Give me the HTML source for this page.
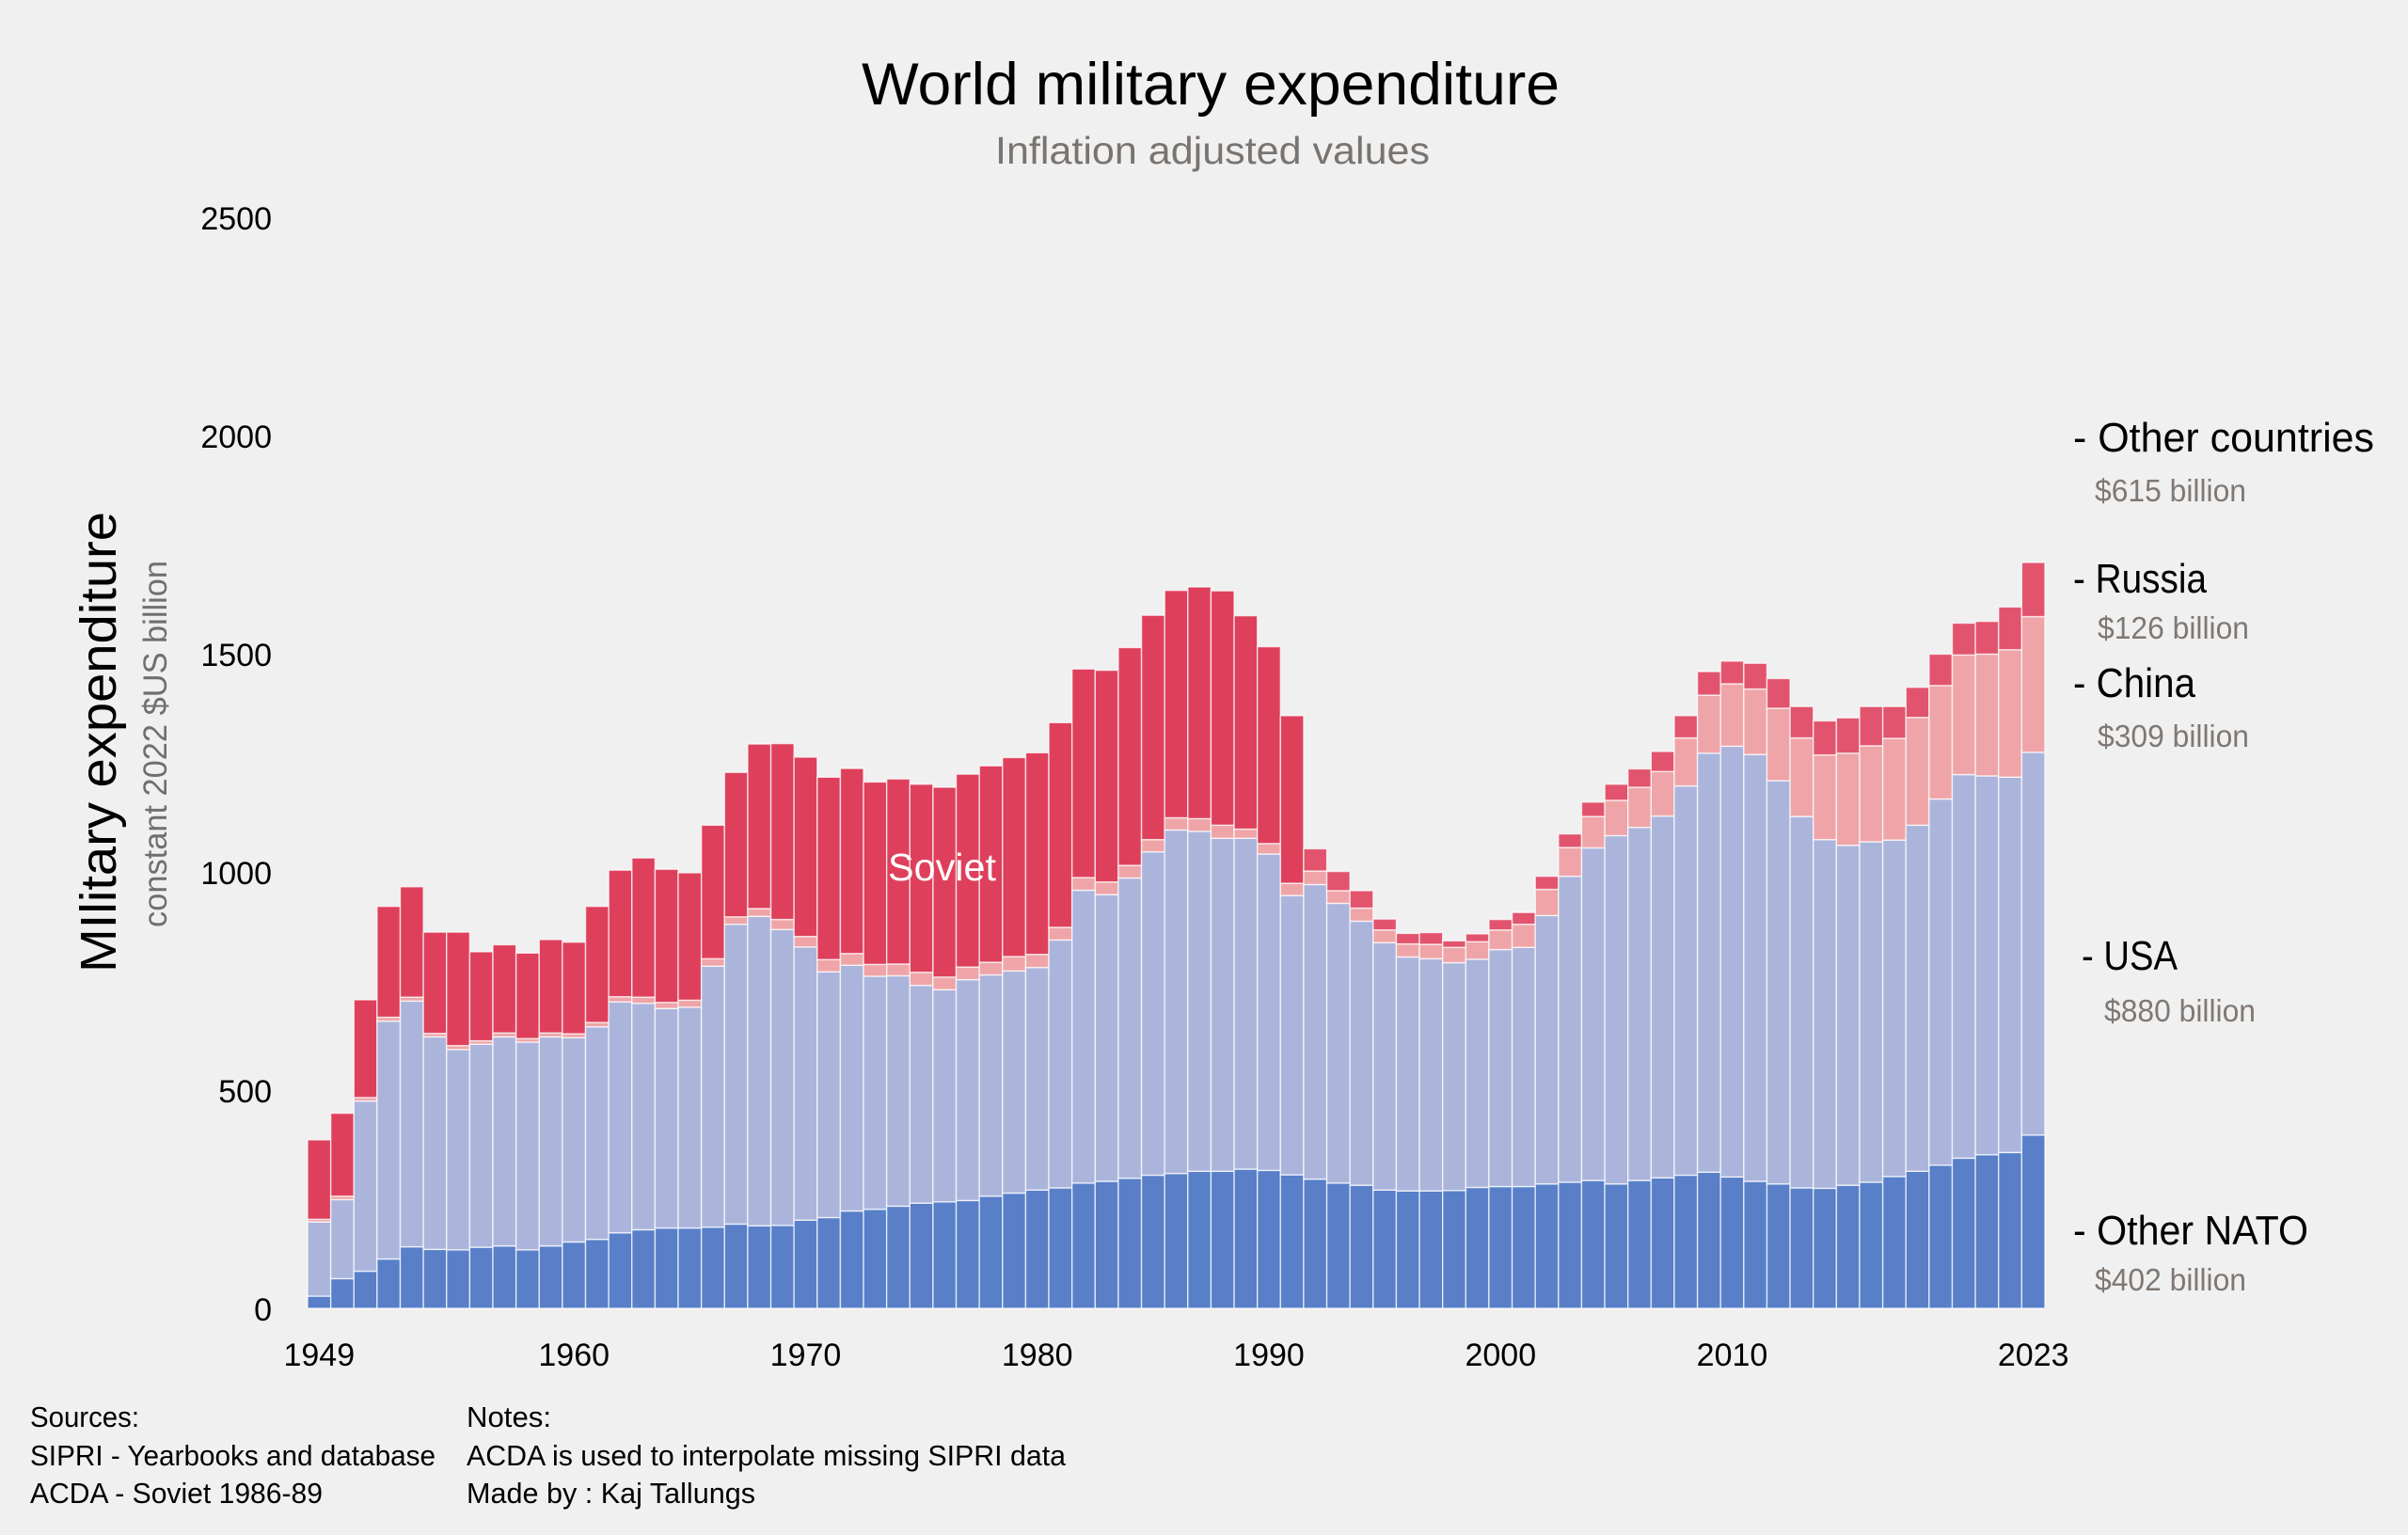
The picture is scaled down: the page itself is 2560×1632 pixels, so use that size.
<!DOCTYPE html>
<html lang="en">
<head>
<meta charset="utf-8">
<title>World military expenditure</title>
<style>
html,body{margin:0;padding:0;background:#f0f0f0;width:2560px;height:1632px;overflow:hidden}
svg{display:block}
text{font-family:"Liberation Sans",sans-serif}
</style>
</head>
<body>
<svg id="chart" xmlns="http://www.w3.org/2000/svg" width="2560" height="1632" viewBox="0 0 2560 1632">
<rect x="0" y="0" width="2560" height="1632" fill="#f0f0f0"/>
<text x="916" y="111" font-size="63" fill="#000" textLength="742" lengthAdjust="spacingAndGlyphs">World military expenditure</text>
<text x="1058" y="174" font-size="41" fill="#7a7470" textLength="462" lengthAdjust="spacingAndGlyphs">Inflation adjusted values</text>
<text transform="translate(123,1034) rotate(-90)" font-size="54" fill="#000" textLength="490" lengthAdjust="spacingAndGlyphs">MIlitary expenditure</text>
<text transform="translate(177,986) rotate(-90)" font-size="35" fill="#6f6f6f" textLength="390" lengthAdjust="spacingAndGlyphs">constant 2022 $US billion</text>
<g id="y-ticks"></g>
<g id="x-ticks"></g>
<g id="bars"></g>
<text x="944" y="936" font-size="41" fill="#fff" textLength="115" lengthAdjust="spacingAndGlyphs">Soviet</text>

<text x="2204" y="480" font-size="44" fill="#000" textLength="320" lengthAdjust="spacingAndGlyphs">- Other countries</text>
<text x="2227" y="533" font-size="33" fill="#7f7873" textLength="161" lengthAdjust="spacingAndGlyphs">$615 billion</text>
<text x="2204" y="630" font-size="44" fill="#000" textLength="142" lengthAdjust="spacingAndGlyphs">- Russia</text>
<text x="2230" y="679" font-size="33" fill="#7f7873" textLength="161" lengthAdjust="spacingAndGlyphs">$126 billion</text>
<text x="2204" y="741" font-size="44" fill="#000" textLength="130" lengthAdjust="spacingAndGlyphs">- China</text>
<text x="2230" y="794" font-size="33" fill="#7f7873" textLength="161" lengthAdjust="spacingAndGlyphs">$309 billion</text>
<text x="2213" y="1031" font-size="44" fill="#000" textLength="102" lengthAdjust="spacingAndGlyphs">- USA</text>
<text x="2237" y="1086" font-size="33" fill="#7f7873" textLength="161" lengthAdjust="spacingAndGlyphs">$880 billion</text>
<text x="2204" y="1323" font-size="44" fill="#000" textLength="250" lengthAdjust="spacingAndGlyphs">- Other NATO</text>
<text x="2227" y="1372" font-size="33" fill="#7f7873" textLength="161" lengthAdjust="spacingAndGlyphs">$402 billion</text>

<text x="32" y="1517" font-size="31" fill="#000" textLength="116" lengthAdjust="spacingAndGlyphs">Sources:</text>
<text x="32" y="1558" font-size="31" fill="#000" textLength="431" lengthAdjust="spacingAndGlyphs">SIPRI - Yearbooks and database</text>
<text x="32" y="1598" font-size="31" fill="#000" textLength="311" lengthAdjust="spacingAndGlyphs">ACDA - Soviet 1986-89</text>
<text x="496" y="1517" font-size="31" fill="#000" textLength="90" lengthAdjust="spacingAndGlyphs">Notes:</text>
<text x="496" y="1558" font-size="31" fill="#000" textLength="637" lengthAdjust="spacingAndGlyphs">ACDA is used to interpolate missing SIPRI data</text>
<text x="496" y="1598" font-size="31" fill="#000" textLength="307" lengthAdjust="spacingAndGlyphs">Made by : Kaj Tallungs</text>
</svg>
<script>
const firstYear = 1949;
const lastYear = 2023;
const xTickYears = [1949, 1960, 1970, 1980, 1990, 2000, 2010, 2023];
const yTickValues = [0, 500, 1000, 1500, 2000, 2500];
const lastSovietYear = 1991;

const otherNato = [28,68,85,113,141,135,134,140,143,134,143,152,158,173,180,184,184,186,193,189,190,202,208,223,227,234,241,244,247,257,264,271,276,287,291,298,305,309,314,314,319,316,306,296,287,282,271,269,269,270,277,279,279,285,289,293,285,293,299,305,312,301,291,285,276,275,282,289,302,314,328,344,352,357,397];
const usa = [170,181,390,545,563,487,459,465,479,476,479,468,487,529,519,503,506,598,687,709,678,626,563,563,534,528,499,486,506,507,509,510,568,671,657,688,741,787,779,763,758,725,640,675,641,605,567,536,532,522,523,543,548,615,701,762,798,809,829,892,960,987,978,924,851,799,779,780,771,793,839,879,868,860,877];
const china = [6,8,8,9,9,8,9,8,9,8,9,9,10,12,14,14,16,17,17,18,23,24,28,27,27,27,30,29,29,29,33,30,29,29,29,29,28,28,29,30,21,24,28,31,29,30,29,30,33,35,40,45,53,60,66,72,81,92,102,110,133,143,150,166,180,194,211,220,233,247,260,274,279,292,311];
const sovietRussia = [182,190,224,254,253,232,260,204,202,196,214,210,266,290,319,305,292,306,331,377,403,411,418,424,418,424,431,435,442,450,456,462,469,478,485,499,514,521,531,537,489,451,384,51,44,40,25,24,27,15,18,24,27,30,31,33,37,42,46,51,54,52,59,68,72,78,81,90,73,69,72,73,75,98,124];

const SVG_NS = 'http://www.w3.org/2000/svg';
const plotLeft = 327;
const plotRight = 2174;
const plotBase = 1391;
const unitsToPx = 0.464;
const slot = (plotRight - plotLeft) / (lastYear - firstYear + 1);
function xAxis(year) { return plotLeft + (year - firstYear) * slot; }
function yAxis(value) { return plotBase - value * unitsToPx; }

const layerColors = { nato: '#587fc8', usa: '#abb5dc', china: '#efa5a8', soviet: '#de405c', russia: '#e2546e' };

const barsGroup = document.getElementById('bars');
for (let i = 0; i <= lastYear - firstYear; i++) {
  const year = firstYear + i;
  const layers = [
    { key: 'other-nato', v: otherNato[i], c: layerColors.nato },
    { key: 'usa', v: usa[i], c: layerColors.usa },
    { key: 'china', v: china[i], c: layerColors.china },
    { key: year <= lastSovietYear ? 'soviet' : 'russia', v: sovietRussia[i], c: year <= lastSovietYear ? layerColors.soviet : layerColors.russia }
  ];
  let sum = 0;
  for (const layer of layers) {
    const rect = document.createElementNS(SVG_NS, 'rect');
    const top = yAxis(sum + layer.v);
    const bottom = yAxis(sum);
    rect.setAttribute('x', xAxis(year).toFixed(2));
    rect.setAttribute('y', top.toFixed(2));
    rect.setAttribute('width', slot.toFixed(2));
    rect.setAttribute('height', Math.max(0, bottom - top).toFixed(2));
    rect.setAttribute('fill', layer.c);
    rect.setAttribute('stroke', '#ffffff');
    rect.setAttribute('stroke-opacity', '0.72');
    rect.setAttribute('stroke-width', '1.4');
    
    
    barsGroup.appendChild(rect);
    sum += layer.v;
  }
}

const yGroup = document.getElementById('y-ticks');
for (const tick of yTickValues) {
  const label = document.createElementNS(SVG_NS, 'text');
  label.setAttribute('x', '289');
  label.setAttribute('y', (yAxis(tick) + 13).toFixed(1));
  label.setAttribute('text-anchor', 'end');
  label.setAttribute('font-size', '34');
  label.setAttribute('fill', '#000');
  
  
  label.textContent = String(tick);
  yGroup.appendChild(label);
}

const xGroup = document.getElementById('x-ticks');
for (const year of xTickYears) {
  const label = document.createElementNS(SVG_NS, 'text');
  label.setAttribute('x', (xAxis(year) + slot / 2).toFixed(1));
  label.setAttribute('y', '1452');
  label.setAttribute('text-anchor', 'middle');
  label.setAttribute('font-size', '34');
  label.setAttribute('fill', '#000');
  
  
  label.textContent = String(year);
  xGroup.appendChild(label);
}
</script>
</body>
</html>
